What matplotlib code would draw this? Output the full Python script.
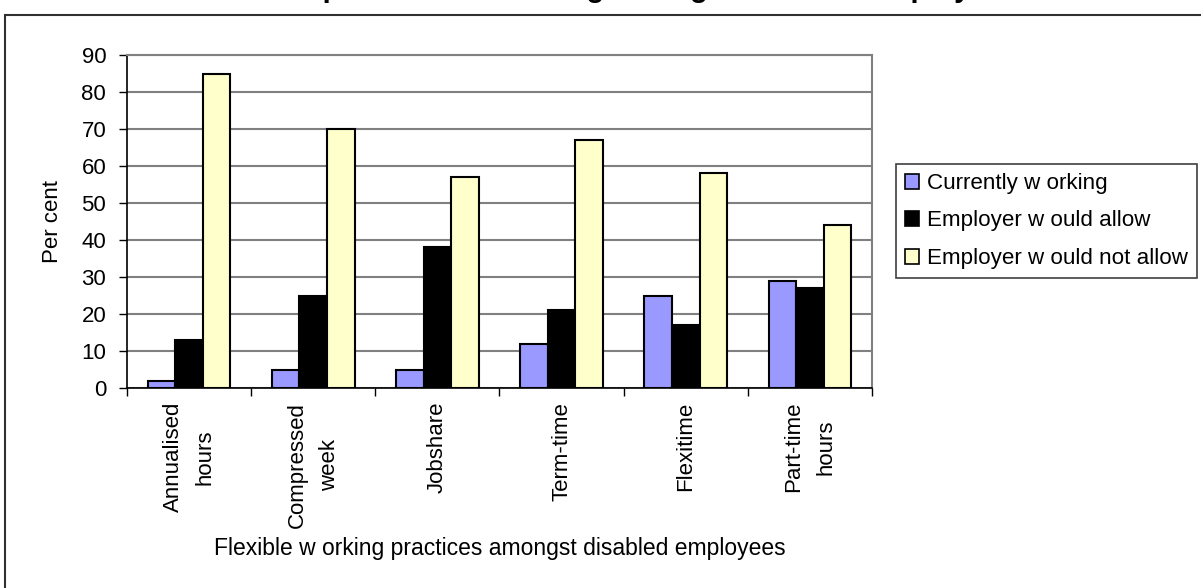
import matplotlib
matplotlib.use('Agg')
import numpy as np
import matplotlib.pyplot as plt
from matplotlib.patches import Rectangle, Patch

plt.rcParams['font.family'] = ['Liberation Sans', 'DejaVu Sans']

# data
categories = ['Annualised\nhours', 'Compressed\nweek', 'Jobshare', 'Term-time', 'Flexitime', 'Part-time\nhours']
currently_working = [2, 5, 5, 12, 25, 29]
employer_would_allow = [13, 25, 38, 21, 17, 27]
employer_would_not_allow = [85, 70, 57, 67, 58, 44]
series_names = ['Currently w orking', 'Employer w ould allow', 'Employer w ould not allow']
colors = ['#9999FF', '#000000', '#FFFFCC']
yticks = list(range(0, 91, 10))

W, H = 1201, 588
fig = plt.figure(figsize=(W / 100, H / 100), dpi=100)

# outer chart border (bottom/right run off the picture)
fig.add_artist(Rectangle((5 / W, -0.1), 1.2, 1 - 15 / H + 0.1, transform=fig.transFigure,
                         fill=False, edgecolor='#303030', linewidth=1.5))
# title, cut off at the top of the picture like in the original
fig.text(0.52, 1 + 3 / H, 'Take-up of flexible working amongst disabled employees',
         ha='center', va='baseline', fontsize=21, fontweight='bold')

ax = fig.add_axes([127 / W, 1 - 388 / H, 745 / W, 333 / H])

x = np.arange(len(categories))
w = 0.222
all_series = [currently_working, employer_would_allow, employer_would_not_allow]
for i, vals in enumerate(all_series):
    ax.bar(x + (i - 1) * w, vals, w, color=colors[i], edgecolor='black', linewidth=1.5, zorder=3)

ax.set_xlim(-0.5, len(categories) - 0.5)
ax.set_ylim(0, 90)
ax.set_yticks(yticks)
ax.yaxis.grid(True, color='#808080', linewidth=1.5, zorder=0)
ax.set_axisbelow(True)

ax.set_xticks(np.arange(-0.5, len(categories), 1))
ax.set_xticklabels([])
ax.set_xticks(x, minor=True)
ax.set_xticklabels(categories, minor=True, rotation=90, va='top', ha='center', linespacing=1.7)
ax.tick_params(axis='x', which='minor', length=0, pad=10, labelsize=16)
ax.tick_params(axis='x', which='major', length=6, width=1)
ax.tick_params(axis='y', length=6, width=1, pad=9, labelsize=16)

for s in ['left', 'bottom']:
    ax.spines[s].set_color('black')
    ax.spines[s].set_linewidth(1.2)
for s in ['top', 'right']:
    ax.spines[s].set_color('#808080')
    ax.spines[s].set_linewidth(1.5)

ax.set_ylabel('Per cent', fontsize=16, va='center')
ax.yaxis.set_label_coords((52 - 127) / 745, 0.5)
ax.set_xlabel('Flexible w orking practices amongst disabled employees', fontsize=16.5, va='center')
ax.xaxis.set_label_coords(0.5, (388 - 549) / 333)

handles = [Patch(facecolor=c, edgecolor='black', linewidth=1.2) for c in colors]
leg = fig.legend(handles, series_names, loc='upper left', bbox_to_anchor=(896 / W, 1 - 164 / H),
                 frameon=True, fancybox=False, edgecolor='#404040', framealpha=1, fontsize=16.1,
                 handlelength=0.65, handleheight=0.65, handletextpad=0.35, labelspacing=0.74,
                 borderpad=0.4, borderaxespad=0)
leg.get_frame().set_linewidth(1.2)

fig.savefig('out.png', dpi=100)
